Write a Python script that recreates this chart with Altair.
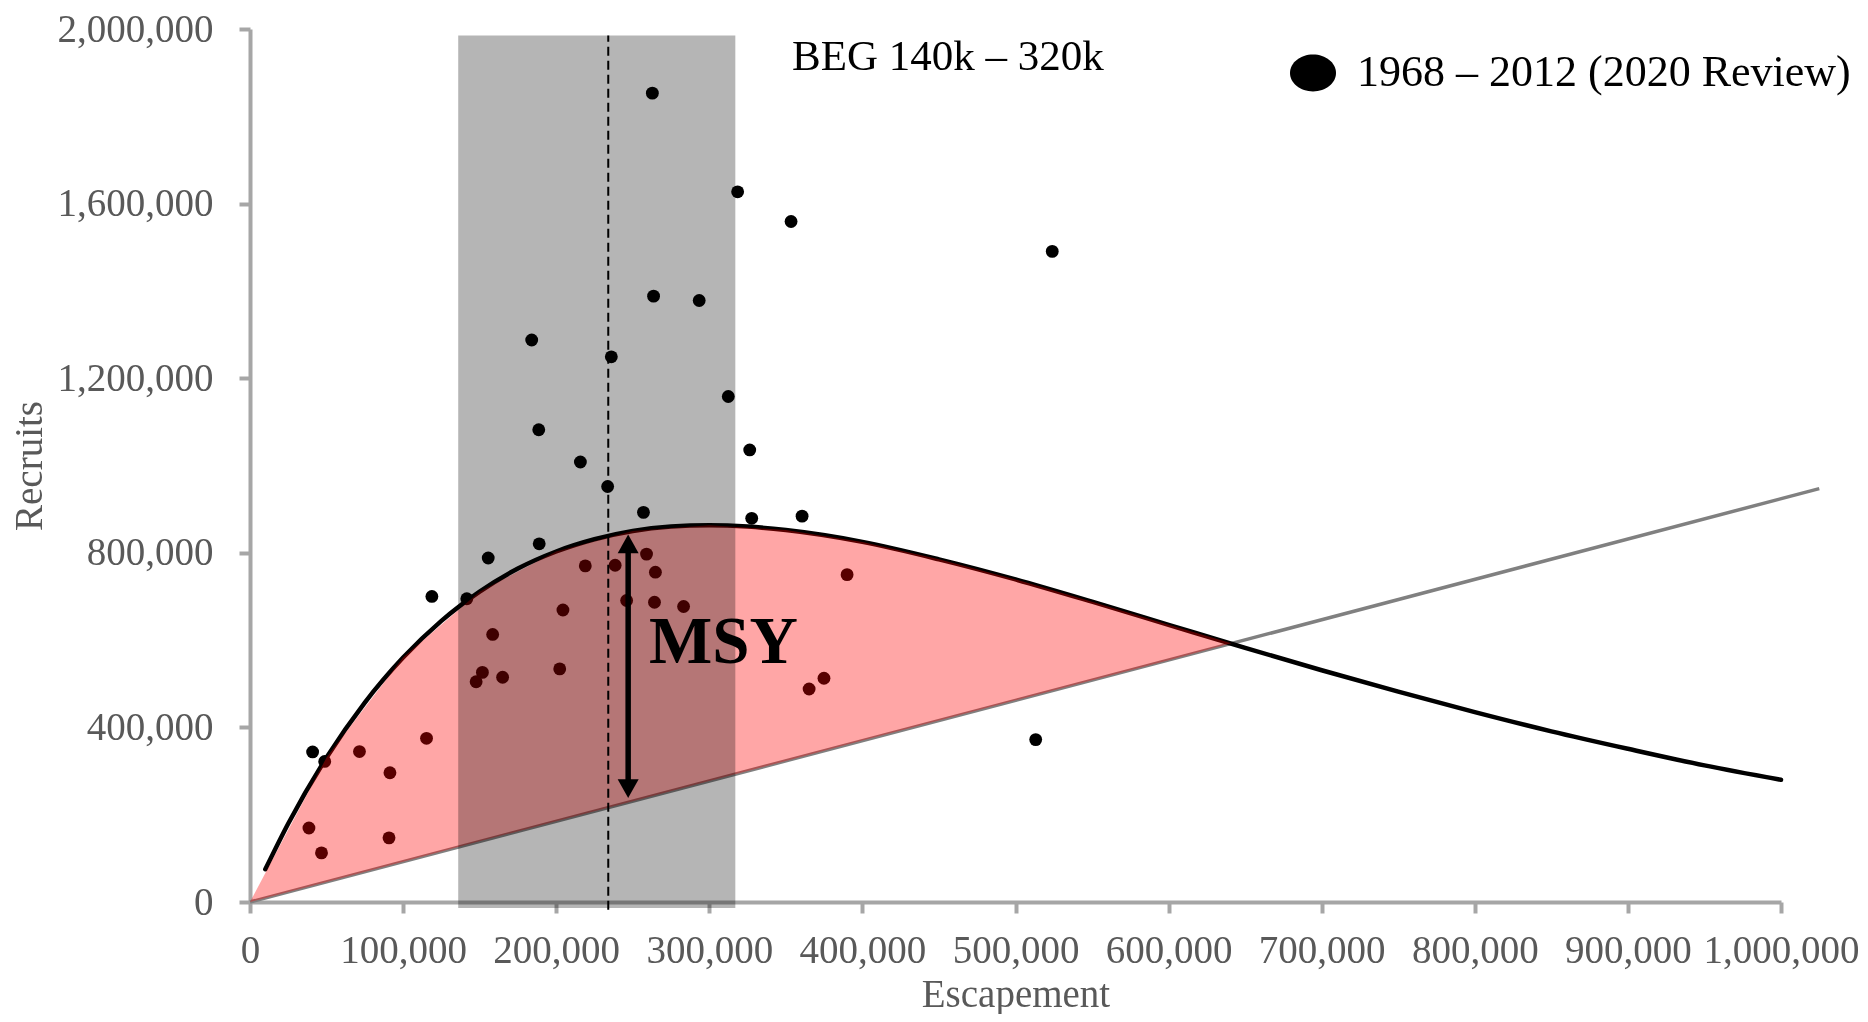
import altair as alt
import pandas as pd

FONT = "Liberation Serif"

# ---- observations (escapement, recruits), 1968 - 2012 ----
escapement = [40900, 48800, 71500, 91400, 115300, 38500, 46700, 90800, 118800, 141600,
              155600, 158500, 147700, 151800, 165000, 188900, 204400, 202300, 219000, 233600,
              238500, 246000, 257000, 259000, 264800, 264200, 283200, 327700, 360600, 390000,
              374900, 365200, 513200, 262800, 263600, 293400, 184000, 236000, 188600, 215800,
              318500, 353400, 524000, 312400, 326400]
recruits = [343800, 322000, 344600, 296000, 375000, 169500, 112500, 147000, 700000, 694700,
            788000, 613000, 504600, 526000, 515000, 820600, 669000, 534000, 770000, 952000,
            771500, 690700, 892700, 797000, 755600, 686700, 677000, 879000, 884000, 750000,
            512500, 488000, 372000, 1853000, 1388000, 1378000, 1287500, 1249000, 1082000, 1008000,
            1627000, 1559000, 1490500, 1158000, 1035700]
legend_label = "1968 \u2013 2012 (2020 Review)"

# ---- spawner-recruit curve ----
curve_x = [10000, 25000, 50000, 75000, 100000, 125000, 150000, 175000, 200000, 225000,
           250000, 275000, 300000, 325000, 350000, 400000, 450000, 500000, 550000, 600000,
           650000, 700000, 750000, 800000, 850000, 900000, 950000, 1000000]
curve_y = [75000, 180000, 331000, 457000, 560000, 644000, 711000, 764000, 803000, 831000,
           850000, 860000, 863000, 860000, 852000, 825000, 785000, 739000, 688000, 635000,
           582000, 531000, 482000, 435000, 391000, 351000, 313000, 280000]

# ---- replacement line ----
repl_x = [0, 1025000]
repl_y = [0, 947000]

# ---- MSY shaded region (between curve and replacement line) ----
msy_x = [0, 50000, 100000, 150000, 200000, 250000, 300000, 350000, 400000, 450000,
         500000, 550000, 600000, 641000]
msy_top = [0, 331000, 560000, 711000, 803000, 850000, 863000, 852000, 825000, 785000,
           739000, 688000, 635000, 593000]
msy_bottom = [0, 46000, 92000, 139000, 185000, 231000, 277000, 323000, 370000, 416000,
              462000, 508000, 554000, 593000]

# ---- goal band, Smsy line, MSY arrow ----
beg_lo, beg_hi = 136000, 317000
band_bottom, band_top = -14000, 1985000
smsy_x = 234000
dash_bottom, dash_top = -18000, 1985000
arrow_x, arrow_lo, arrow_hi = 247000, 238000, 842000

beg_text = "BEG 140k \u2013 320k"
beg_text_pos = (354000, 1906000)
msy_text = "MSY"
msy_text_pos = (260600, 548000)

x_ticks = [0, 100000, 200000, 300000, 400000, 500000, 600000, 700000, 800000, 900000, 1000000]
y_ticks = [0, 400000, 800000, 1200000, 1600000, 2000000]

XS = alt.Scale(domain=[0, 1000000], nice=False, zero=False)
YS = alt.Scale(domain=[0, 2000000], nice=False, zero=False)

pts = pd.DataFrame({"x": escapement, "y": recruits, "series": legend_label})
curve = pd.DataFrame({"x": curve_x, "y": curve_y})
repl = pd.DataFrame({"x": repl_x, "y": repl_y})
msy = pd.DataFrame({"x": msy_x, "y": msy_top, "bottom": msy_bottom})
band = pd.DataFrame({"x": [beg_lo], "x2": [beg_hi], "y": [band_bottom], "y2": [band_top]})
dash = pd.DataFrame({"x": [smsy_x], "y": [dash_bottom], "y2": [dash_top]})
shaft = pd.DataFrame({"x": [arrow_x], "y": [arrow_lo + 20000], "y2": [arrow_hi - 20000]})
head_up = pd.DataFrame({"x": [arrow_x], "y": [arrow_hi]})
head_dn = pd.DataFrame({"x": [arrow_x], "y": [arrow_lo]})
beg_df = pd.DataFrame({"x": [beg_text_pos[0]], "y": [beg_text_pos[1]], "t": [beg_text]})
msy_df = pd.DataFrame({"x": [msy_text_pos[0]], "y": [msy_text_pos[1]], "t": [msy_text]})

LABEL_EXPR = "format(datum.value, ',')"
x_axis = alt.Axis(values=x_ticks, labelExpr=LABEL_EXPR, title="Escapement", grid=False,
                  labelFlush=False, labelOverlap=False, labelPadding=18, titlePadding=5)
y_axis = alt.Axis(values=y_ticks, labelExpr=LABEL_EXPR, title="Recruits", grid=False,
                  labelFlush=False, labelOverlap=False, labelPadding=26, titlePadding=8)


def X():
    return alt.X("x:Q", scale=XS, axis=x_axis, title="Escapement")


def Y():
    return alt.Y("y:Q", scale=YS, axis=y_axis, title="Recruits")


repl_line = alt.Chart(repl).mark_line(color="#808080", strokeWidth=3.5).encode(x=X(), y=Y())

curve_line = alt.Chart(curve).mark_line(color="#000000", strokeWidth=4.5,
                                         interpolate="monotone", strokeCap="round").encode(x=X(), y=Y())

ELLIPSE = "M-1,0 A1,0.8 0 1,1 1,0 A1,0.8 0 1,1 -1,0 Z"
dots = alt.Chart(pts).mark_circle(size=165, opacity=1).encode(
    x=X(), y=Y(),
    color=alt.Color("series:N",
                    scale=alt.Scale(domain=[legend_label], range=["#000000"]),
                    legend=alt.Legend(title=None, orient="none", legendX=1040, legendY=21,
                                      symbolType=ELLIPSE, symbolSize=2116, symbolStrokeWidth=0,
                                      symbolOpacity=1,
                                      labelFont=FONT, labelFontSize=44, labelColor="#000000",
                                      labelLimit=0, labelOffset=21, padding=0)),
)

msy_area = alt.Chart(msy).mark_area(color="#ff0000", opacity=0.35).encode(
    x=X(), y=Y(), y2="bottom:Q",
)

dash_rule = alt.Chart(dash).mark_rule(color="#000000", strokeWidth=2, strokeDash=[9, 5]).encode(
    x=X(), y=Y(), y2="y2:Q",
)

shaft_rule = alt.Chart(shaft).mark_rule(color="#000000", strokeWidth=5.5).encode(
    x=X(), y=Y(), y2="y2:Q",
)
up = alt.Chart(head_up).mark_point(shape="M0,0 L-1,1.8 L1,1.8 Z", size=441, filled=True,
                                   color="#000000", opacity=1).encode(x=X(), y=Y())
dn = alt.Chart(head_dn).mark_point(shape="M0,0 L-1,-1.8 L1,-1.8 Z", size=441, filled=True,
                                   color="#000000", opacity=1).encode(x=X(), y=Y())

msy_label = alt.Chart(msy_df).mark_text(font=FONT, fontSize=67, fontWeight="bold", color="#000000",
                                        align="left", baseline="alphabetic").encode(
    x=X(), y=Y(), text="t:N",
)

band_rect = alt.Chart(band).mark_rect(color="#b5b5b5", opacity=1, blend="multiply").encode(
    x=X(), x2="x2:Q", y=Y(), y2="y2:Q",
)

beg_label = alt.Chart(beg_df).mark_text(font=FONT, fontSize=43, color="#000000",
                                        align="left", baseline="alphabetic").encode(
    x=X(), y=Y(), text="t:N",
)

chart = alt.layer(
    repl_line, curve_line, dots, msy_area, dash_rule, shaft_rule, up, dn, msy_label,
    band_rect, beg_label,
).properties(
    width=1531, height=873,
    autosize=alt.AutoSizeParams(type="none"),
    padding={"left": 242, "top": 21, "right": 78, "bottom": 112},
    background="#ffffff",
).configure_view(stroke=None).configure_axis(
    domainColor="#a6a6a6", domainWidth=4, tickColor="#a6a6a6", tickWidth=4, tickSize=11,
    labelFont=FONT, labelFontSize=39, labelColor="#595959",
    titleFont=FONT, titleFontSize=39, titleColor="#595959", titleFontWeight="normal",
)

chart.save("out.html", embed_options={"renderer": "svg", "actions": False})
